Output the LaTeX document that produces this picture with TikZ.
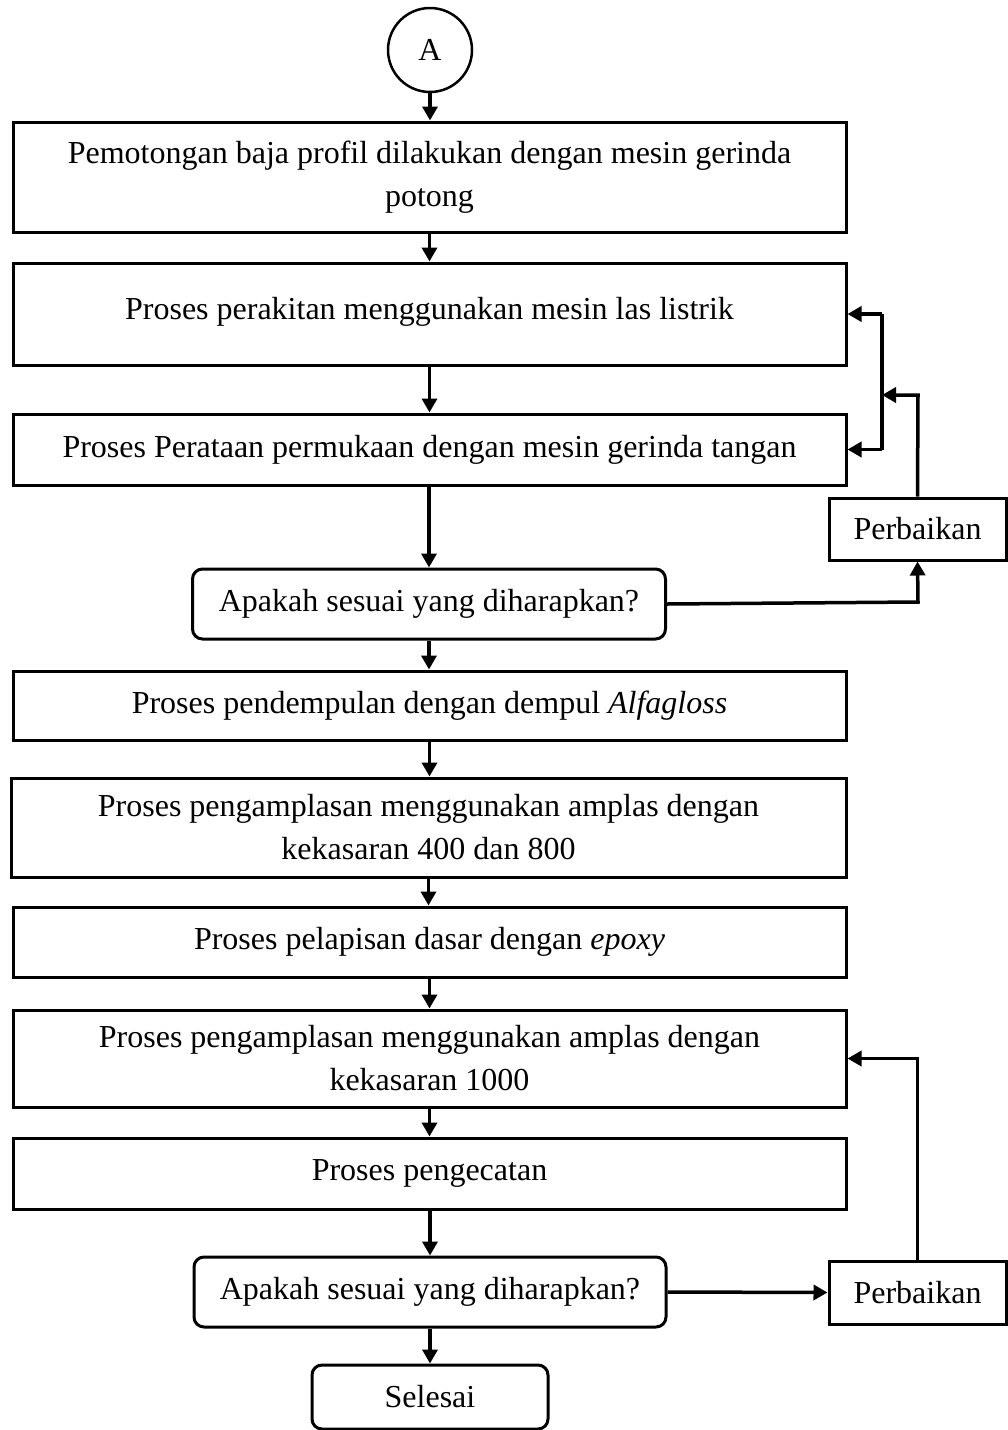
\documentclass[tikz,border=0pt]{standalone}
\usepackage{fontspec}
\setmainfont{Liberation Serif}
\usetikzlibrary{arrows.meta}
\begin{document}
\begin{tikzpicture}[x=1pt,y=-1pt,
  every node/.style={font=\fontsize{32}{43}\selectfont},
  box/.style={draw, line width=3pt, rectangle, inner sep=0pt, align=center},
  rbox/.style={box, rounded corners=10pt},
  arr/.style={line width=3.5pt, -{Triangle[length=14pt,width=15pt]}},
  ln/.style={line width=3.5pt}]
\useasboundingbox (0,0) rectangle (1007,1430);
\node[draw, line width=2.5pt, circle, minimum size=84pt, inner sep=0pt] (A) at (430,50) {A};
\node[box, minimum width=833pt, minimum height=110pt] (b1) at (429.5,177) {Pemotongan baja profil dilakukan dengan mesin gerinda\\potong};
\node[box, minimum width=833pt, minimum height=102pt] (b2) at (429.5,314) {};
\node at (429.5,312) {Proses perakitan menggunakan mesin las listrik};
\node[box, minimum width=833pt, minimum height=71pt] (b3) at (429.5,449.5) {Proses Perataan permukaan dengan mesin gerinda tangan};
\node[rbox, minimum width=473pt, minimum height=70pt] (d1) at (429,604) {Apakah sesuai yang diharapkan?};
\node[box, minimum width=177pt, minimum height=62pt] (p1) at (917.5,529) {Perbaikan};
\node[box, minimum width=833pt, minimum height=69pt] (b4) at (429.5,705.5) {Proses pendempulan dengan dempul \textit{Alfagloss}};
\node[box, minimum width=835pt, minimum height=99pt] (b5) at (428.5,827.5) {Proses pengamplasan menggunakan amplas dengan\\kekasaran 400 dan 800};
\node[box, minimum width=833pt, minimum height=70pt] (b6) at (429.5,942) {Proses pelapisan dasar dengan \textit{epoxy}};
\node[box, minimum width=833pt, minimum height=97pt] (b7) at (429.5,1058.5) {Proses pengamplasan menggunakan amplas dengan\\kekasaran 1000};
\node[box, minimum width=833pt, minimum height=71pt] (b8) at (429.5,1173.5) {Proses pengecatan};
\node[rbox, minimum width=472pt, minimum height=70pt] (d2) at (430,1292) {Apakah sesuai yang diharapkan?};
\node[box, minimum width=177pt, minimum height=63pt] (p2) at (917.5,1292.5) {Perbaikan};
\node[rbox, minimum width=236pt, minimum height=64pt] (s) at (430,1397) {Selesai};
\coordinate (j1) at (882,395);
\draw[arr] (A) -- (A |- b1.north);
\draw[arr] (b1) -- (b1 |- b2.north);
\draw[arr] (b2) -- (b2 |- b3.north);
\draw[arr] (b3.south -| d1) -- (d1.north);
\draw[arr] (d1) -- (d1 |- b4.north);
\draw[arr] (b4) -- (b4 |- b5.north);
\draw[arr] (b5) -- (b5 |- b6.north);
\draw[arr] (b6) -- (b6 |- b7.north);
\draw[arr] (b7) -- (b7 |- b8.north);
\draw[arr] (b8.south -| d2) -- (d2.north);
\draw[arr] (d2) -- (d2 |- s.north);
\draw[arr] (d1.east) -- (918,602) -- (p1.south);
\draw[arr] (p1.north) -- (918,395) -- (j1);
\draw[ln] (j1 |- b2.east) -- (j1 |- b3.east);
\draw[arr] (j1 |- b2.east) -- (b2.east);
\draw[arr] (j1 |- b3.east) -- (b3.east);
\draw[arr] (d2.east) -- (p2.west);
\draw[arr] (p2.north) -- (p2.north |- b7.east) -- (b7.east);
\end{tikzpicture}
\end{document}
